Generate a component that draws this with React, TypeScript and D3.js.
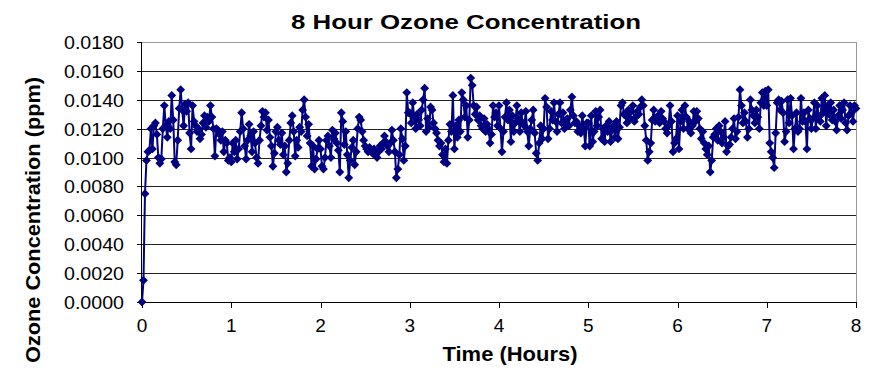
import React from 'react';
import * as d3 from 'd3';

// ozone readings, one per minute, in units of 0.0001 ppm
const ozone = [
  // hour 0
  0, 15, 75, 98, 104, 105, 120, 106, 122, 124,
  116, 100, 96, 99, 120, 136, 122, 114, 125, 120,
  143, 126, 97, 95, 112, 134, 147, 133, 122, 137,
  132, 138, 117, 106, 136, 125, 122, 118, 120, 113,
  116, 124, 129, 121, 128, 125, 136, 128, 120, 101,
  120, 119, 116, 112, 118, 104, 112, 110, 98, 100,
  // hour 1
  97, 110, 104, 112, 99, 106, 118, 131, 120, 108,
  99, 112, 123, 115, 104, 118, 110, 100, 96, 112,
  122, 132, 128, 131, 119, 126, 114, 108, 94, 103,
  118, 121, 112, 109, 117, 102, 108, 90, 96, 112,
  124, 129, 118, 101, 112, 107, 121, 118, 133, 140,
  128, 115, 123, 110, 94, 108, 92, 99, 106, 112,
  // hour 2
  106, 94, 92, 100, 112, 115, 108, 100, 119, 113,
  117, 110, 105, 90, 131, 125, 109, 118, 102, 86,
  98, 107, 112, 95, 104, 120, 128, 126, 118, 112,
  108, 106, 104, 107, 105, 103, 106, 102, 100, 104,
  108, 106, 110, 115, 111, 108, 104, 110, 119, 112,
  104, 86, 92, 102, 120, 113, 98, 108, 145, 131,
  // hour 3
  131, 124, 138, 128, 120, 130, 126, 122, 133, 140,
  148, 118, 127, 121, 135, 133, 124, 120, 117, 112,
  108, 110, 102, 97, 106, 96, 112, 123, 118, 143,
  106, 122, 114, 126, 118, 145, 140, 128, 136, 114,
  126, 155, 150, 136, 130, 135, 126, 129, 122, 120,
  127, 118, 123, 120, 110, 116, 136, 128, 131, 122,
  // hour 4
  136, 120, 104, 118, 128, 138, 126, 133, 111, 129,
  118, 124, 136, 127, 118, 131, 124, 122, 132, 118,
  108, 120, 126, 133, 117, 103, 98, 110, 122, 113,
  120, 141, 135, 113, 120, 132, 126, 138, 125, 118,
  130, 138, 124, 131, 120, 126, 127, 122, 133, 142,
  129, 124, 125, 118, 122, 117, 129, 120, 108, 124,
  // hour 5
  124, 108, 129, 111, 118, 132, 122, 128, 133, 113,
  120, 111, 122, 118, 125, 111, 119, 122, 114, 125,
  113, 121, 136, 138, 130, 129, 124, 133, 127, 132,
  136, 125, 128, 132, 130, 135, 140, 136, 122, 112,
  98, 104, 110, 126, 133, 125, 128, 129, 124, 132,
  127, 125, 120, 117, 122, 136, 125, 104, 110, 113,
  // hour 6
  129, 106, 125, 133, 120, 136, 128, 120, 125, 117,
  122, 132, 125, 132, 127, 120, 113, 118, 110, 106,
  102, 108, 90, 98, 114, 116, 120, 112, 122, 118,
  110, 114, 125, 104, 108, 109, 114, 120, 127, 113,
  118, 128, 147, 136, 124, 131, 125, 114, 120, 140,
  133, 129, 124, 133, 128, 120, 138, 145, 136, 146,
  // hour 7
  136, 147, 110, 104, 100, 93, 117, 138, 140, 133,
  139, 131, 111, 118, 140, 124, 141, 129, 106, 120,
  131, 118, 120, 141, 125, 131, 125, 106, 133, 127,
  120, 127, 138, 120, 136, 128, 125, 141, 131, 143,
  122, 136, 130, 138, 126, 133, 125, 119, 129, 136,
  127, 133, 138, 124, 119, 129, 136, 131, 125, 136, 134,
];

const yTicks = [0, 0.002, 0.004, 0.006, 0.008, 0.01, 0.012, 0.014, 0.016, 0.018];
const xTicks = [0, 1, 2, 3, 4, 5, 6, 7, 8];

const width = 876;
const height = 372;
const margin = { top: 42, right: 20, bottom: 70, left: 142 };
const navy = '#000080';
const font = 'Arial, "Liberation Sans", sans-serif';

export default function App() {
  const innerW = 856 - margin.left;
  const innerH = 302 - margin.top;

  const x = d3.scaleLinear().domain([0, 8]).range([0, innerW]);
  const y = d3.scaleLinear().domain([0, 0.018]).range([innerH, 0]);

  // minutes -> hours, 0.0001 units -> ppm
  const points = ozone.map((v, i) => ({ t: i / 60, c: v / 10000 }));

  const line = d3.line<{ t: number; c: number }>()
    .x(d => x(d.t))
    .y(d => y(d.c));

  const diamond = d3.symbol().type(d3.symbolDiamond2).size(50)() as string;

  return (
    <svg width={width} height={height} style={{ position: 'absolute', left: 0, top: 0, background: '#fff' }}
      fontFamily={font}>
      <text x={466} y={29} textAnchor="middle" fontSize={21} fontWeight="bold"
        textLength={350} lengthAdjust="spacingAndGlyphs">8 Hour Ozone Concentration</text>

      <g transform={`translate(${margin.left},${margin.top})`}>
        {/* grid lines */}
        {yTicks.slice(1).map(t => (
          <line key={t} x1={0} x2={innerW} y1={Math.round(y(t)) + 0.5} y2={Math.round(y(t)) + 0.5}
            stroke={t === 0.018 ? '#999' : '#222'} strokeWidth={1} />
        ))}
        <line x1={innerW + 0.5} x2={innerW + 0.5} y1={0} y2={innerH} stroke="#999" />

        {/* axes */}
        <line x1={-0.5} x2={-0.5} y1={0} y2={innerH} stroke="#000" />
        <line x1={0} x2={innerW} y1={innerH + 0.5} y2={innerH + 0.5} stroke="#000" />
        {yTicks.map(t => (
          <g key={t}>
            <line x1={-5} x2={0} y1={Math.round(y(t)) + 0.5} y2={Math.round(y(t)) + 0.5} stroke="#000" />
            <text x={-18} y={y(t)} dy="0.4em" textAnchor="end" fontSize={17.5}
              textLength={60} lengthAdjust="spacingAndGlyphs">{t.toFixed(4)}</text>
          </g>
        ))}
        {xTicks.map(t => (
          <g key={t}>
            <line x1={Math.round(x(t)) + 0.5} x2={Math.round(x(t)) + 0.5} y1={innerH} y2={innerH + 6} stroke="#000" />
            <text x={x(t)} y={innerH + 30} textAnchor="middle" fontSize={19}>{t}</text>
          </g>
        ))}

        {/* series */}
        <path d={line(points) as string} fill="none" stroke={navy} strokeWidth={2} />
        {points.map((d, i) => (
          <path key={i} d={diamond} transform={`translate(${x(d.t)},${y(d.c)})`} fill={navy} />
        ))}
      </g>

      <text x={510} y={361} textAnchor="middle" fontSize={21} fontWeight="bold"
        textLength={135} lengthAdjust="spacingAndGlyphs">Time (Hours)</text>
      <text transform="translate(40,220) rotate(-90)" textAnchor="middle" fontSize={20} fontWeight="bold"
        textLength={286} lengthAdjust="spacingAndGlyphs">
        Ozone Concentration (ppm)
      </text>
    </svg>
  );
}
